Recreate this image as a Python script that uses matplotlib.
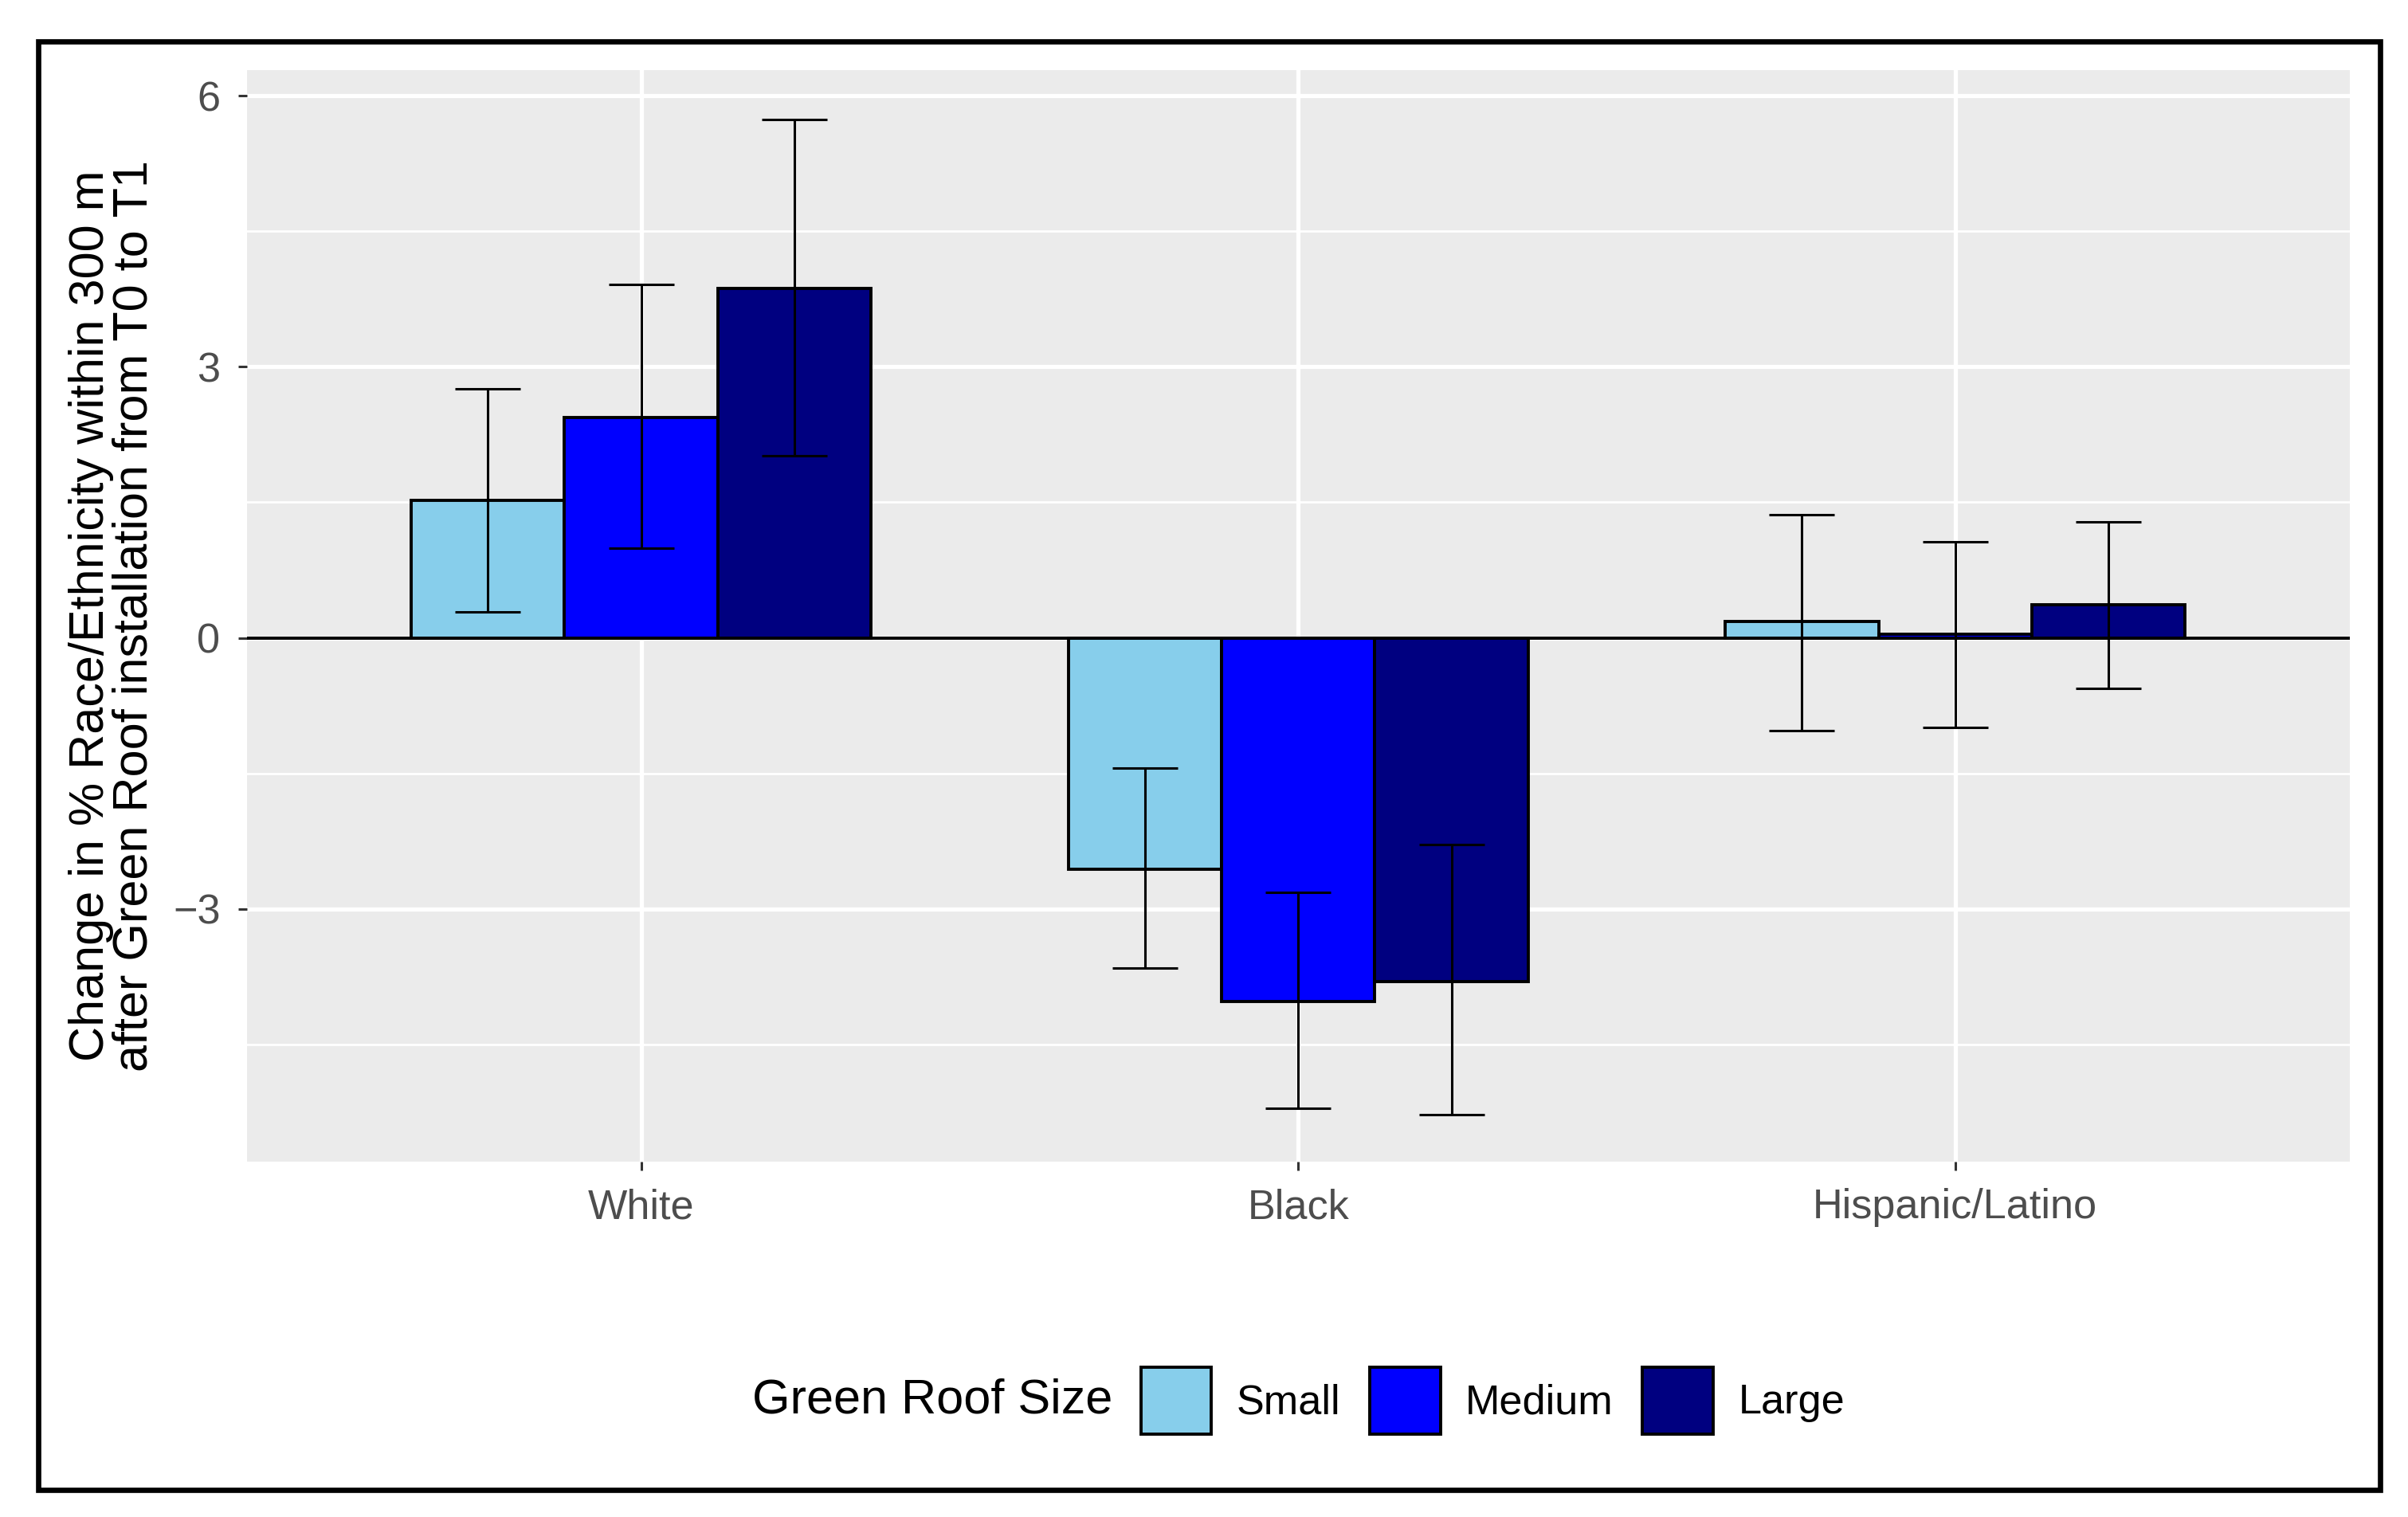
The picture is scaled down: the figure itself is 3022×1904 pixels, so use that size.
import numpy as np
import matplotlib
matplotlib.use("Agg")
import matplotlib.pyplot as plt
from matplotlib.patches import Rectangle

plt.rcParams['font.family'] = ['Liberation Sans', 'DejaVu Sans']

# data
groups = ['White', 'Black', 'Hispanic/Latino']
sizes = ['Small', 'Medium', 'Large']
colors = ['#87CEEB', '#0000FF', '#000080']

small_mean = [1.52, -2.56, 0.18]
small_lo   = [0.29, -3.66, -1.03]
small_hi   = [2.76, -1.44, 1.36]

medium_mean = [2.44, -4.03, 0.04]
medium_lo   = [0.99, -5.21, -0.99]
medium_hi   = [3.91, -2.82, 1.06]

large_mean = [3.87, -3.81, 0.37]
large_lo   = [2.02, -5.28, -0.56]
large_hi   = [5.74, -2.29, 1.28]

means = [small_mean, medium_mean, large_mean]
lows = [small_lo, medium_lo, large_lo]
highs = [small_hi, medium_hi, large_hi]

fig = plt.figure(figsize=(15.11, 9.52), dpi=200)
ax = fig.add_axes([0.1025, 0.2343, 0.8732, 0.7197])
ax.set_facecolor('#EBEBEB')

x = np.arange(1, len(groups) + 1)
w = 0.7 / 3
for k in range(3):
    xs = x + (k - 1) * w
    ax.bar(xs, means[k], width=w, color=colors[k], edgecolor='black',
           linewidth=1.4, zorder=3)
    m = np.array(means[k])
    err = [m - np.array(lows[k]), np.array(highs[k]) - m]
    ax.errorbar(xs, m, yerr=err, fmt='none', ecolor='black', elinewidth=1.1,
                capsize=14.6, capthick=1.1, zorder=4)

ax.axhline(0, color='black', linewidth=1.4, zorder=3.5)

ax.set_xlim(0.4, 3.6)
ax.set_ylim(-5.8, 6.29)
ax.set_yticks([-3, 0, 3, 6])
ax.set_yticklabels(['\u22123', '0', '3', '6'])
ax.set_yticks([-4.5, -1.5, 1.5, 4.5], minor=True)
ax.set_xticks(x)
ax.set_xticklabels(groups)

ax.grid(which='major', color='white', linewidth=1.9, zorder=0)
ax.grid(which='minor', axis='y', color='white', linewidth=1.0, zorder=0)
ax.set_axisbelow(True)
for s in ax.spines.values():
    s.set_visible(False)

ax.tick_params(which='major', length=4, width=1.1, color='#333333',
               labelcolor='#4D4D4D', labelsize=18.8, pad=8)
ax.tick_params(which='minor', length=0)

ax.set_ylabel('Change in % Race/Ethnicity within 300 m\n'
              'after Green Roof installation from T0 to T1',
              fontsize=22, labelpad=7, linespacing=0.95)

# legend along the bottom
handles = [Rectangle((0, 0), 1, 1, facecolor=c, edgecolor='black', linewidth=1.4)
           for c in colors]
fig.text(0.3125, 0.0767, 'Green Roof Size', fontsize=22, va='center', ha='left')
fig.legend(handles, sizes, loc='center left', bbox_to_anchor=(0.4737, 0.0767),
           ncol=3, frameon=False, fontsize=18.8, handlelength=1.7,
           handleheight=2.1, handletextpad=0.6, columnspacing=0.7,
           borderaxespad=0, borderpad=0)

# outer frame
fig.patches.append(Rectangle((0.016, 0.0177), 0.9725, 0.9548, transform=fig.transFigure,
                             fill=False, edgecolor='black', linewidth=2.4))

fig.savefig('out.png', dpi=200)
